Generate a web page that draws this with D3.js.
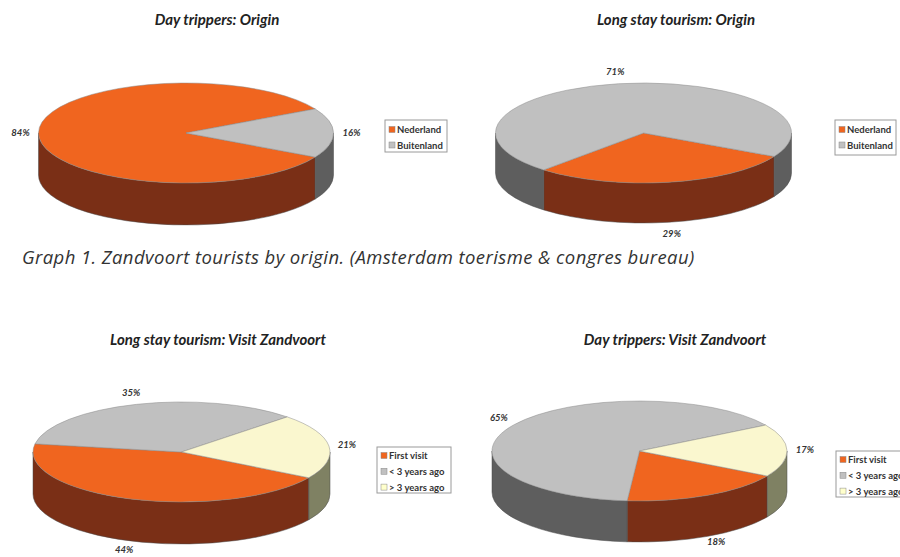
<!DOCTYPE html>
<html>
<head>
<meta charset="utf-8">
<script src="https://cdn.jsdelivr.net/npm/d3@7"></script>
<style>
  body { margin: 0; background: #fff; }
  svg { display: block; }
</style>
</head>
<body>
<div id="chart"></div>
<script>
// data
const originCategories = ["Nederland", "Buitenland"];
const dayOriginValues = [84, 16];
const longOriginValues = [29, 71];

const visitCategories = ["First visit", "< 3 years ago", "> 3 years ago"];
const longVisitValues = [44, 35, 21];
const dayVisitValues = [18, 65, 17];

const titles = [
  "Day trippers: Origin",
  "Long stay tourism: Origin",
  "Long stay tourism: Visit Zandvoort",
  "Day trippers: Visit Zandvoort"
];
const caption = "Graph 1. Zandvoort tourists by origin. (Amsterdam toerisme & congres bureau)";

const width = 900, height = 557;

// top face / side colours per category slot
const topColors = ["#F0651F", "#C0C0C0", "#FAF7CF"];
const sideColors = ["#7A2F16", "#5E5E5E", "#7F8163"];
const swatchColors = ["#F0651F", "#C0C0C0", "#FFFFCC"];

const charts = [
  { title: titles[0], cats: originCategories, values: dayOriginValues,
    cx: 186, cy: 133, rx: 147.5, ry: 50, depth: 42, start: 118.8,
    titleX: 217, titleY: 25, legend: { x: 385, y: 120, w: 62, h: 32 } },
  { title: titles[1], cats: originCategories, values: longOriginValues,
    cx: 643.5, cy: 133, rx: 148, ry: 50, depth: 40, start: 118,
    titleX: 676, titleY: 25, legend: { x: 835, y: 120, w: 61, h: 35 } },
  { title: titles[2], cats: visitCategories, values: longVisitValues,
    cx: 181.5, cy: 452, rx: 148.5, ry: 50, depth: 42, start: 121,
    titleX: 218, titleY: 345, legend: { x: 377, y: 447, w: 74, h: 46 } },
  { title: titles[3], cats: visitCategories, values: dayVisitValues,
    cx: 639.5, cy: 451, rx: 147.5, ry: 50, depth: 41, start: 120,
    titleX: 675, titleY: 345, legend: { x: 836, y: 451, w: 74, h: 46 } }
];

const svg = d3.select("#chart")
  .append("svg")
  .attr("width", width)
  .attr("height", height);

const rad = Math.PI / 180;

charts.forEach(function(c) {
  const g = svg.append("g");

  const pie = d3.pie()
    .sort(null)
    .value(d => d)
    .startAngle(c.start * rad)
    .endAngle(c.start * rad + 2 * Math.PI);

  // d3 angles are measured from 12 o'clock; shift to screen angles from 3 o'clock
  const arcs = pie(c.values).map((d, i) => ({
    i: i,
    value: d.value,
    t1: d.startAngle - Math.PI / 2,
    t2: d.endAngle - Math.PI / 2
  }));

  const px = t => c.cx + c.rx * Math.cos(t);
  const py = t => c.cy + c.ry * Math.sin(t);

  // outer walls: only the front half (0..pi) is visible
  arcs.forEach(function(a) {
    for (let k = -1; k <= 2; k++) {
      const lo = Math.max(a.t1, 2 * Math.PI * k);
      const hi = Math.min(a.t2, 2 * Math.PI * k + Math.PI);
      if (hi - lo <= 1e-6) continue;
      const p = `M${px(lo)},${py(lo)}` +
        `A${c.rx},${c.ry} 0 0 1 ${px(hi)},${py(hi)}` +
        `L${px(hi)},${py(hi) + c.depth}` +
        `A${c.rx},${c.ry} 0 0 0 ${px(lo)},${py(lo) + c.depth}Z`;
      g.append("path")
        .attr("d", p)
        .attr("fill", sideColors[a.i])
        .attr("stroke", "#4a4a4a")
        .attr("stroke-width", 0.5);
    }
  });

  // top faces
  arcs.forEach(function(a) {
    const large = (a.t2 - a.t1) > Math.PI ? 1 : 0;
    const p = `M${c.cx},${c.cy}L${px(a.t1)},${py(a.t1)}` +
      `A${c.rx},${c.ry} 0 ${large} 1 ${px(a.t2)},${py(a.t2)}Z`;
    g.append("path")
      .attr("d", p)
      .attr("fill", topColors[a.i])
      .attr("stroke", "#8a8a8a")
      .attr("stroke-width", 0.5);
  });

  // percentage labels
  arcs.forEach(function(a) {
    const m = (a.t1 + a.t2) / 2;
    const s = Math.sin(m);
    const x = c.cx + (c.rx + 18) * Math.cos(m);
    const y = c.cy + (c.ry + 12) * s + (s > 0 ? c.depth * s : 0);
    g.append("text")
      .attr("x", x)
      .attr("y", y + 3)
      .attr("text-anchor", "middle")
      .style("font-family", "Lato, 'Open Sans', sans-serif")
      .style("font-size", "9.5px")
      .style("font-weight", "bold")
      .style("font-style", "italic")
      .style("fill", "#333")
      .text(a.value + "%");
  });

  // title
  g.append("text")
    .attr("x", c.titleX)
    .attr("y", c.titleY)
    .attr("text-anchor", "middle")
    .style("font-family", "Lato, 'Open Sans', sans-serif")
    .style("font-size", "15px")
    .style("font-weight", "bold")
    .style("font-style", "italic")
    .style("fill", "#222")
    .text(c.title);

  // legend
  const L = c.legend;
  const lg = g.append("g").attr("transform", `translate(${L.x},${L.y})`);
  lg.append("rect")
    .attr("width", L.w)
    .attr("height", L.h)
    .attr("fill", "#fff")
    .attr("stroke", "#9a9a9a")
    .attr("stroke-width", 1);
  const step = c.cats.length === 2 ? 15.5 : 15.8;
  const first = c.cats.length === 2 ? 9.5 : 8.5;
  c.cats.forEach(function(name, i) {
    const yy = first + i * step;
    lg.append("rect")
      .attr("x", 4)
      .attr("y", yy - 3)
      .attr("width", 6)
      .attr("height", 6)
      .attr("fill", swatchColors[i])
      .attr("stroke", "#888")
      .attr("stroke-width", 0.5);
    lg.append("text")
      .attr("x", 12)
      .attr("y", yy + 3.5)
      .style("font-family", "Lato, 'Open Sans', sans-serif")
      .style("font-size", "9.5px")
      .style("font-weight", "bold")
      .style("fill", "#333")
      .text(name);
  });
});

svg.append("text")
  .attr("x", 22)
  .attr("y", 264)
  .style("font-family", "'Open Sans', sans-serif")
  .style("font-size", "18.5px")
  .style("letter-spacing", "0.4px")
  .style("font-style", "italic")
  .style("fill", "#333")
  .text(caption);
</script>
</body>
</html>
